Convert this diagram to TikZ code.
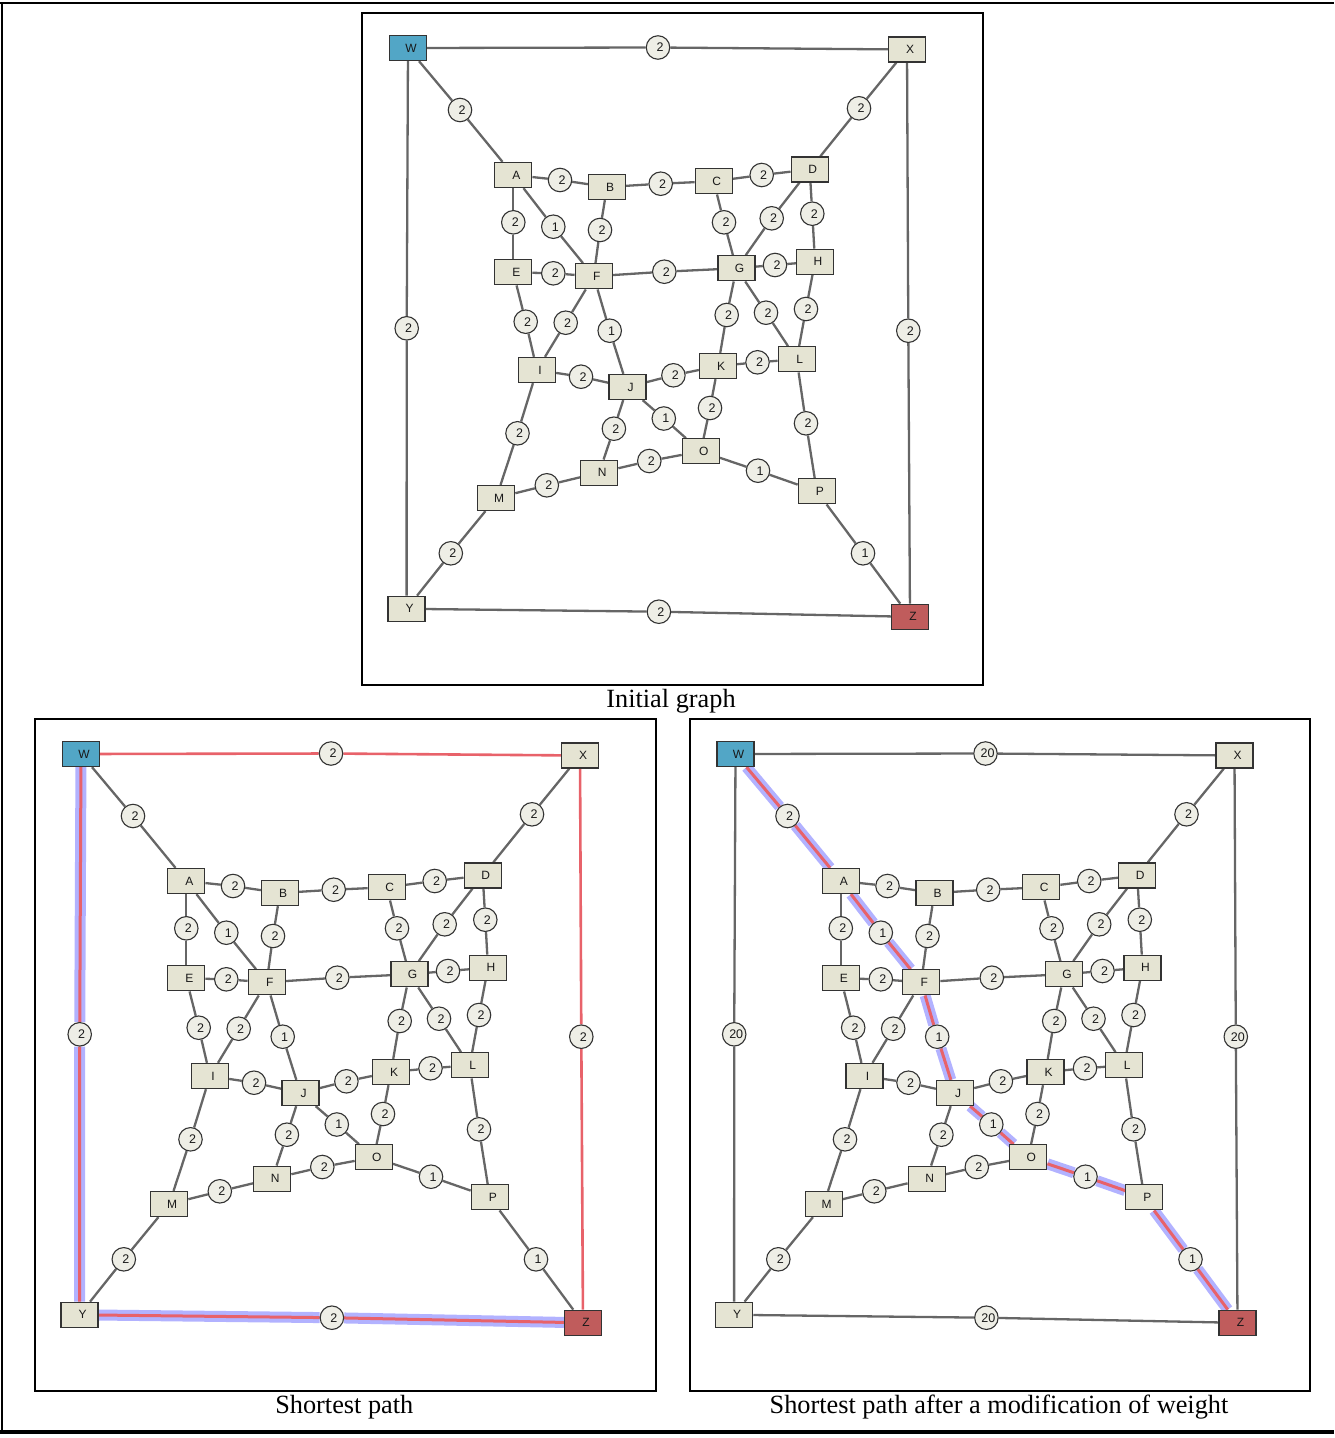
\documentclass[tikz,border=0pt]{standalone}
\usepackage{fontspec}
\setmainfont{Liberation Serif}
\newfontfamily\sansf{Liberation Sans}
\usetikzlibrary{backgrounds}
\definecolor{beige}{RGB}{229,228,211}
\definecolor{circfill}{RGB}{238,238,230}
\definecolor{wblue}{RGB}{82,166,198}
\definecolor{zred}{RGB}{192,92,92}
\definecolor{edgegray}{RGB}{102,102,102}
\definecolor{nborder}{RGB}{51,51,51}
\definecolor{pathred}{RGB}{232,98,106}
\definecolor{halob}{RGB}{178,178,255}
\newcommand\labf{\sansf\fontsize{12}{13}\selectfont}
\newcommand\digf{\sansf\fontsize{12.5}{13}\selectfont}
\newcommand\capf{\fontsize{26.3}{30}\selectfont}
\tikzset{
  vbox/.style={draw=nborder, line width=1.3pt, fill=beige, minimum width=37pt, minimum height=25pt, inner sep=0pt, font=\labf, text=black!90},
  wt/.style={circle, draw=nborder, line width=1.1pt, fill=circfill, minimum size=23.5pt, inner sep=0pt, font=\digf, text=black!90},
  eg/.style={draw=edgegray, line width=2.3pt},
  redpath/.style={draw=pathred, line width=3pt},
  halo/.style={draw=halob, line width=11pt},
  frame/.style={draw=black, line width=2pt},
  caption/.style={font=\capf, anchor=base, inner sep=0pt},
  hWX/.style={}, hXZ/.style={}, hWY/.style={}, hYZ/.style={},
  hWA/.style={}, hAF/.style={}, hFJ/.style={}, hJO/.style={}, hOP/.style={}, hPZ/.style={},
}
\newcommand\gnodes[1]{%
  \node[vbox,fill=wblue] (W) at (408,48) {\kern6pt W};
  \node[vbox] (X) at (907,49.5) {\kern6pt X};
  \node[vbox] (A) at (513.3,175) {\kern6pt A};
  \node[vbox] (B) at (607,187) {\kern6pt B};
  \node[vbox] (C) at (713.7,181.3) {\kern6pt C};
  \node[vbox] (D) at (809.7,169.5) {\kern6pt D};
  \node[vbox] (E) at (513.3,272.3) {\kern6pt E};
  \node[vbox] (F) at (593.7,276.3) {\kern6pt F};
  \node[vbox] (G) at (736.5,268.3) {\kern6pt G};
  \node[vbox] (H) at (815,261.7) {\kern6pt H};
  \node[vbox] (I) at (537,370) {\kern6pt I};
  \node[vbox] (J) at (627.5,387) {\kern6pt J};
  \node[vbox] (K) at (718,366) {\kern6pt K};
  \node[vbox] (L) at (796.7,359.3) {\kern6pt L};
  \node[vbox] (M) at (496.2,498) {\kern6pt M};
  \node[vbox] (N) at (599.2,472.7) {\kern6pt N};
  \node[vbox] (O) at (700.8,451.3) {\kern6pt O};
  \node[vbox] (P) at (816.8,491.3) {\kern6pt P};
  \node[vbox] (Y) at (406.6,608.8) {\kern6pt Y};
  \node[vbox,fill=zred] (Z) at (910,616.8) {\kern6pt Z};
  \node[wt] (wx) at (658,47.5) {\kern4pt #1};
  \node[wt] (wa) at (460,110) {\kern4pt 2};
  \node[wt] (xd) at (859,108.3) {\kern4pt 2};
  \node[wt] (wy) at (406.7,328.3) {\kern4pt #1};
  \node[wt] (xz) at (908.3,330.7) {\kern4pt #1};
  \node[wt] (ab) at (560,180) {\kern4pt 2};
  \node[wt] (bc) at (660.7,183.7) {\kern4pt 2};
  \node[wt] (cd) at (761.7,175) {\kern4pt 2};
  \node[wt] (ae) at (513.3,222.3) {\kern4pt 2};
  \node[wt] (af) at (553.3,226.7) {\kern4pt 1};
  \node[wt] (bf) at (600,230) {\kern4pt 2};
  \node[wt] (cg) at (724,222.3) {\kern4pt 2};
  \node[wt] (dg) at (771.7,218.3) {\kern4pt 2};
  \node[wt] (dh) at (812.3,213.7) {\kern4pt 2};
  \node[wt] (ef) at (553.3,273.3) {\kern4pt 2};
  \node[wt] (fg) at (664.3,271.7) {\kern4pt 2};
  \node[wt] (gh) at (775,265) {\kern4pt 2};
  \node[wt] (ei) at (525.7,321.7) {\kern4pt 2};
  \node[wt] (fi) at (565.7,322.7) {\kern4pt 2};
  \node[wt] (fj) at (609.7,330.7) {\kern4pt 1};
  \node[wt] (gk) at (726.7,315) {\kern4pt 2};
  \node[wt] (gl) at (766,312.7) {\kern4pt 2};
  \node[wt] (hl) at (806,309) {\kern4pt 2};
  \node[wt] (ij) at (581,376.7) {\kern4pt 2};
  \node[wt] (jk) at (673.4,375.3) {\kern4pt 2};
  \node[wt] (kl) at (757.5,362.3) {\kern4pt 2};
  \node[wt] (im) at (517.5,433.3) {\kern4pt 2};
  \node[wt] (jn) at (613.9,428.7) {\kern4pt 2};
  \node[wt] (jo) at (663.8,418.5) {\kern4pt 1};
  \node[wt] (ko) at (710,408) {\kern4pt 2};
  \node[wt] (lp) at (806,423.3) {\kern4pt 2};
  \node[wt] (mn) at (546.8,485.3) {\kern4pt 2};
  \node[wt] (no) at (649.3,461) {\kern4pt 2};
  \node[wt] (op) at (758,470.7) {\kern4pt 1};
  \node[wt] (my) at (450.8,553.3) {\kern4pt 2};
  \node[wt] (pz) at (863,553.3) {\kern4pt 1};
  \node[wt] (yz) at (658.9,611.7) {\kern4pt #1};
}
\newcommand\gedges{%
  \draw[eg,hWX] (W)--(wx)--(X);
  \draw[eg,hWA] (W)--(wa)--(A);
  \draw[eg] (X)--(xd)--(D);
  \draw[eg,hWY] (W)--(wy)--(Y);
  \draw[eg,hXZ] (X)--(xz)--(Z);
  \draw[eg] (A)--(ab)--(B);
  \draw[eg] (B)--(bc)--(C);
  \draw[eg] (C)--(cd)--(D);
  \draw[eg] (A)--(ae)--(E);
  \draw[eg,hAF] (A)--(af)--(F);
  \draw[eg] (B)--(bf)--(F);
  \draw[eg] (C)--(cg)--(G);
  \draw[eg] (D)--(dg)--(G);
  \draw[eg] (D)--(dh)--(H);
  \draw[eg] (E)--(ef)--(F);
  \draw[eg] (F)--(fg)--(G);
  \draw[eg] (G)--(gh)--(H);
  \draw[eg] (E)--(ei)--(I);
  \draw[eg] (F)--(fi)--(I);
  \draw[eg,hFJ] (F)--(fj)--(J);
  \draw[eg] (G)--(gk)--(K);
  \draw[eg] (G)--(gl)--(L);
  \draw[eg] (H)--(hl)--(L);
  \draw[eg] (I)--(ij)--(J);
  \draw[eg] (J)--(jk)--(K);
  \draw[eg] (K)--(kl)--(L);
  \draw[eg] (I)--(im)--(M);
  \draw[eg] (J)--(jn)--(N);
  \draw[eg,hJO] (J)--(jo)--(O);
  \draw[eg] (K)--(ko)--(O);
  \draw[eg] (L)--(lp)--(P);
  \draw[eg] (M)--(mn)--(N);
  \draw[eg] (N)--(no)--(O);
  \draw[eg,hOP] (O)--(op)--(P);
  \draw[eg] (M)--(my)--(Y);
  \draw[eg,hPZ] (P)--(pz)--(Z);
  \draw[eg,hYZ] (Y)--(yz)--(Z);
}
\begin{document}
\begin{tikzpicture}[x=1pt,y=-1pt]
\useasboundingbox (0,0) rectangle (1334,1438);
% outer open frame
\draw[line width=2pt] (0,3) -- (1334,3);
\draw[line width=2pt] (2,2) -- (2,1432);
\draw[line width=4pt] (0,1432) -- (1334,1432);

% panel 1: initial graph
\begin{scope}[name prefix=t-]
  \draw[frame] (362,12.5) rectangle (982.5,684.5);
  \gnodes{2}
  \begin{pgfonlayer}{background}
    \gedges
  \end{pgfonlayer}
  \node[caption] (cap) at (671,707) {Initial graph};
\end{scope}

% panel 2: shortest path
\begin{scope}[shift={(-327,706)}, name prefix=l-,
  hWX/.style={draw=pathred, line width=2.6pt},
  hXZ/.style={draw=pathred, line width=2.6pt},
  hWY/.style={redpath}, hYZ/.style={redpath}]
  \draw[frame] (362,12.5) rectangle (982.5,684.5);
  \gnodes{2}
  \begin{pgfonlayer}{background}
    \draw[halo] (W)--(wy)--(Y)--(yz)--(Z);
    \gedges
  \end{pgfonlayer}
  \node[caption] (cap) at (671.3,707) {Shortest path};
\end{scope}

% panel 3: after weight modification
\begin{scope}[shift={(327.5,706)}, name prefix=r-,
  hWA/.style={redpath}, hAF/.style={redpath}, hFJ/.style={redpath},
  hJO/.style={redpath}, hOP/.style={redpath}, hPZ/.style={redpath}]
  \draw[frame] (362,12.5) rectangle (982.5,684.5);
  \gnodes{20}
  \begin{pgfonlayer}{background}
    \draw[halo] (W)--(wa)--(A)--(af)--(F)--(fj)--(J)--(jo)--(O)--(op)--(P)--(pz)--(Z);
    \gedges
  \end{pgfonlayer}
  \node[caption] (cap) at (671.5,707) {Shortest path after a modification of weight};
\end{scope}
\end{tikzpicture}
\end{document}
